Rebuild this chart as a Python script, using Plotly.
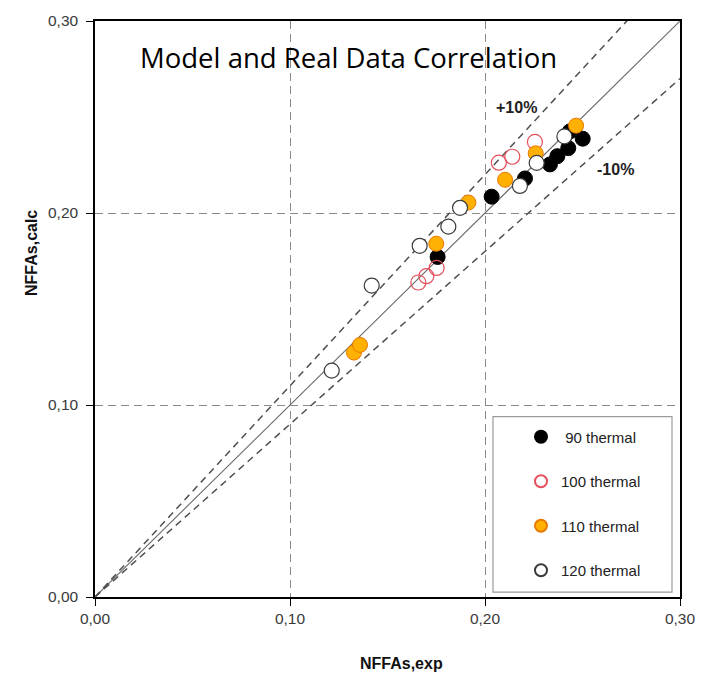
import plotly.graph_objects as go

# ---------------- data ----------------
series_names = ["\u00a090 thermal", "100 thermal", "110 thermal", "120 thermal"]

x_90 = [0.1757, 0.2034, 0.2205, 0.2333, 0.2371, 0.2427, 0.2435, 0.2501]
y_90 = [0.1771, 0.2085, 0.2180, 0.2253, 0.2296, 0.2338, 0.2425, 0.2387]

x_100 = [0.1658, 0.1699, 0.1752, 0.2071, 0.2140, 0.2256]
y_100 = [0.1638, 0.1671, 0.1714, 0.2262, 0.2293, 0.2370]

x_110 = [0.1328, 0.1359, 0.1750, 0.1915, 0.2103, 0.2260, 0.2467]
y_110 = [0.1273, 0.1313, 0.1840, 0.2055, 0.2173, 0.2311, 0.2455]

x_120 = [0.1214, 0.1419, 0.1665, 0.1812, 0.1872, 0.2179, 0.2265, 0.2407]
y_120 = [0.1179, 0.1622, 0.1829, 0.1929, 0.2027, 0.2141, 0.2261, 0.2399]

tick_vals = [0.0, 0.1, 0.2, 0.3]
ref_x = [0.0, 0.30]
band_factors = [1.0, 1.1, 0.9]
band_labels = ["+10%", "-10%"]
label_pos = [(0.2163, 0.2550), (0.2667, 0.2225)]

title_text = "Model and Real Data Correlation"
x_title = "NFFAs,exp"
y_title = "NFFAs,calc"

# ---------------- styles ----------------
SANS = "Liberation Sans, Arial, sans-serif"
styles = [
    dict(color="black", line=dict(color="black", width=1)),
    dict(color="rgba(255,255,255,0)", line=dict(color="#E4505C", width=1.2)),
    dict(color="#FFB000", line=dict(color="#E87800", width=1)),
    dict(color="white", line=dict(color="#3c3c3c", width=1.2)),
]

fig = go.Figure()

# reference lines y = x, +10 %, -10 %
for f in band_factors:
    fig.add_trace(go.Scatter(
        x=ref_x, y=[f * v for v in ref_x], mode="lines",
        line=dict(color="#6a6a6a" if f == 1.0 else "#505050",
                  width=1.1 if f == 1.0 else 1.5,
                  dash="solid" if f == 1.0 else "7px,5px"),
        showlegend=False, hoverinfo="skip"))

all_x = [x_90, x_100, x_110, x_120]
all_y = [y_90, y_100, y_110, y_120]
for i, (nm, xs, ys, st) in enumerate(zip(series_names, all_x, all_y, styles)):
    fig.add_trace(go.Scatter(
        x=xs, y=ys, mode="markers", name=nm, legendgroup=f"g{i}",
        marker=dict(size=15, symbol="circle", color=st["color"], line=st["line"])))

annotations = [
    dict(text=title_text, xref="paper", yref="paper",
         x=(348 - 95) / 585, y=(597 - 53) / 581, xanchor="center", yanchor="middle",
         showarrow=False, font=dict(family="Open Sans, sans-serif", size=27.5, color="black")),
    dict(text=f"<b>{x_title}</b>", xref="paper", yref="paper",
         x=(401 - 95) / 585, y=(597 - 664) / 581, xanchor="center", yanchor="middle",
         showarrow=False, font=dict(family=SANS, size=16, color="#111")),
    dict(text=f"<b>{y_title}</b>", xref="paper", yref="paper", textangle=-90,
         x=(32 - 95) / 585, y=(597 - 250) / 581, xanchor="center", yanchor="middle",
         showarrow=False, font=dict(family=SANS, size=16, color="#111")),
]
for lab, (lx, ly) in zip(band_labels, label_pos):
    annotations.append(dict(text=f"<b>{lab}</b>", x=lx, y=ly, xref="x", yref="y",
                            showarrow=False, font=dict(family=SANS, size=16, color="#222")))

axis_common = dict(range=[0, 0.3], tickvals=tick_vals, tickformat=".2f",
                   showline=True, linecolor="black", linewidth=1.5, mirror=True,
                   ticks="outside", ticklen=7, tickcolor="black", tickwidth=1,
                   showgrid=True, gridcolor="#8a8a8a", gridwidth=1, griddash="8px,5px",
                   zeroline=False, fixedrange=True,
                   tickfont=dict(family=SANS, size=15.5, color="#3a3a3a"))

fig.update_layout(
    width=711, height=676,
    margin=dict(l=95, r=31, t=16, b=79),
    paper_bgcolor="white", plot_bgcolor="white",
    separators=",.",
    xaxis=axis_common, yaxis=dict(axis_common, ticklabelstandoff=5),
    showlegend=True,
    legend=dict(x=(521 - 95) / 585, y=(597 - 419) / 581, xanchor="left", yanchor="top",
                bgcolor="rgba(0,0,0,0)", borderwidth=0, tracegroupgap=22,
                itemsizing="constant",
                font=dict(family=SANS, size=15, color="#222")),
    annotations=annotations,
    shapes=[dict(type="rect", xref="paper", yref="paper",
                 x0=(493 - 95) / 585, x1=(672 - 95) / 585,
                 y0=(597 - 592) / 581, y1=(597 - 415) / 581,
                 line=dict(color="#9a9a9a", width=1.2), fillcolor="white", layer="below")],
)

fig.write_html("out.html")
